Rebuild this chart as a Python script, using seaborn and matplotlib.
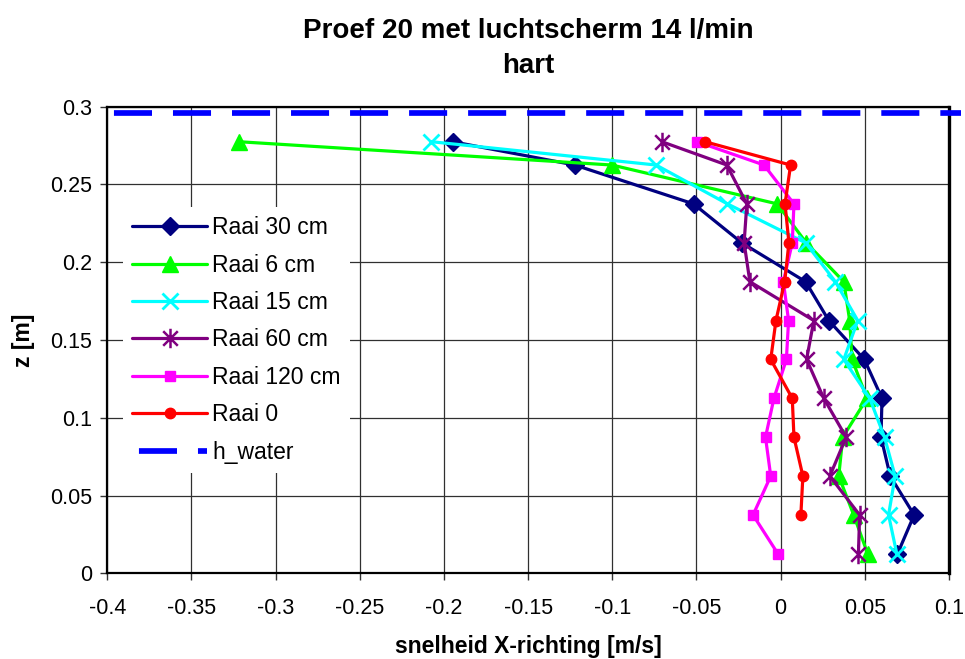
import numpy as np
import pandas as pd
import matplotlib
matplotlib.use("Agg")
import matplotlib.pyplot as plt
from matplotlib.path import Path
import seaborn as sns

# ---------------- data ----------------
z_levels = [0.0125, 0.0375, 0.0625, 0.0875, 0.1125, 0.1375, 0.1625, 0.1875,
            0.2125, 0.2375, 0.2625, 0.2775]
z_raai0 = z_levels[1:]

raai_30 = [0.0694, 0.0793, 0.0651, 0.0596, 0.0602, 0.0497, 0.0286, 0.0148,
           -0.0231, -0.0517, -0.1223, -0.1949]
raai_6 = [0.0517, 0.0434, 0.0345, 0.0369, 0.0513, 0.0424, 0.0410, 0.0375,
          0.0152, -0.0020, -0.1002, -0.3220]
raai_15 = [0.0690, 0.0641, 0.0680, 0.0617, 0.0529, 0.0375, 0.0458, 0.0325,
           0.0148, -0.0316, -0.0740, -0.2075]
raai_60 = [0.0462, 0.0469, 0.0292, 0.0389, 0.0256, 0.0154, 0.0197, -0.0183,
           -0.0217, -0.0201, -0.0320, -0.0706]
raai_120 = [-0.0016, -0.0164, -0.0059, -0.0090, -0.0040, 0.0034, 0.0047, 0.0016,
            0.0069, 0.0079, -0.0099, -0.0497]
raai_0 = [0.0120, 0.0132, 0.0079, 0.0069, -0.0059, -0.0028, 0.0024, 0.0049,
          0.0026, 0.0059, -0.0450]

h_water = 0.296
h_water_x = [-0.4, 0.107]

series_labels = ["Raai 30 cm", "Raai 6 cm", "Raai 15 cm", "Raai 60 cm",
                 "Raai 120 cm", "Raai 0"]
water_label = "h_water"

x_ticks = [-0.4, -0.35, -0.3, -0.25, -0.2, -0.15, -0.1, -0.05, 0, 0.05, 0.1]
x_ticklabels = ["-0.4", "-0.35", "-0.3", "-0.25", "-0.2", "-0.15", "-0.1",
                "-0.05", "0", "0.05", "0.1"]
y_ticks = [0, 0.05, 0.1, 0.15, 0.2, 0.25, 0.3]
y_ticklabels = ["0", "0.05", "0.1", "0.15", "0.2", "0.25", "0.3"]

title_text = "Proef 20 met luchtscherm 14 l/min\nhart"
xlabel_text = "snelheid X-richting [m/s]"
ylabel_text = "z [m]"

# ---------------- style ----------------
sns.set_theme(style="white")
plt.rcParams["font.family"] = ["Liberation Sans", "DejaVu Sans"]
plt.rcParams["axes.unicode_minus"] = False
plt.rcParams["lines.scale_dashes"] = False
for k in ["text.color", "axes.labelcolor", "xtick.color", "ytick.color"]:
    plt.rcParams[k] = "black"

W, H = 965, 659
fig = plt.figure(figsize=(W / 100, H / 100), dpi=100)
L, R, T, B = 107.3, 949.0, 106.7, 573.3
ax = fig.add_axes([L / W, 1 - B / H, (R - L) / W, (B - T) / H])

# Excel-like asterisk marker: vertical line + X
ast = Path([(0, -1), (0, 1), (-0.75, -0.75), (0.75, 0.75), (-0.75, 0.75), (0.75, -0.75)],
           [Path.MOVETO, Path.LINETO, Path.MOVETO, Path.LINETO, Path.MOVETO, Path.LINETO])

specs = [
    (raai_30, z_levels, "#000080", "D", 9, 1.0),
    (raai_6, z_levels, "#00FF00", "^", 11, 1.0),
    (raai_15, z_levels, "#00FFFF", "x", 11, 2.0),
    (raai_60, z_levels, "#800080", ast, 14, 1.8),
    (raai_120, z_levels, "#FF00FF", "s", 7, 1.0),
    (raai_0, z_raai0, "#FF0000", "o", 7.5, 1.0),
]

for (xv, zv, col, mk, ms, mew), lab in zip(specs, series_labels):
    df = pd.DataFrame({"v": xv, "z": zv})
    sns.lineplot(data=df, x="v", y="z", sort=False, estimator=None, ax=ax,
                 color=col, linewidth=2.3, marker=mk, markersize=ms,
                 markeredgecolor=col, markerfacecolor=col, markeredgewidth=mew,
                 label=lab, zorder=3)

wdf = pd.DataFrame({"v": h_water_x, "z": [h_water, h_water]})
sns.lineplot(data=wdf, x="v", y="z", sort=False, estimator=None, ax=ax,
             color="#0000FF", linewidth=4.1,
             linestyle=(37.5, (27.4, 15.1)), label=water_label, zorder=4)
ax.lines[-1].set_clip_on(False)
ax.lines[-1].set_solid_capstyle("butt")
ax.lines[-1].set_dash_capstyle("butt")

# ---------------- axes ----------------
ax.set_xlim(-0.4, 0.1)
ax.set_ylim(0, 0.3)
ax.set_xticks(x_ticks)
ax.set_xticklabels(x_ticklabels)
ax.set_yticks(y_ticks)
ax.set_yticklabels(y_ticklabels)
ax.grid(True, color="#303030", linewidth=0.9)
ax.set_axisbelow(True)
ax.tick_params(axis="both", direction="out", length=5, width=1.0, color="#333333",
               labelsize=15.5, labelcolor="black")
ax.tick_params(axis="x", pad=12.5)
ax.tick_params(axis="y", pad=6)
ax.tick_params(bottom=True, left=True)
for s in ax.spines.values():
    s.set_color("black")
    s.set_linewidth(1.6)
    s.set_visible(True)
ax.spines["right"].set_linewidth(2.4)

ax.set_xlabel(xlabel_text, fontsize=16.5, fontweight="bold", labelpad=12)
ax.set_ylabel(ylabel_text, fontsize=16.5, fontweight="bold", labelpad=11)
fig.text((L + R) / 2 / W, 1 - 18 / H, title_text, ha="center", va="top",
         fontsize=20, fontweight="bold", linespacing=1.45)

leg = ax.legend(loc="upper left", bbox_to_anchor=(0.0187, 0.785), borderaxespad=0,
                frameon=True, fancybox=False, framealpha=1, facecolor="white",
                edgecolor="white", fontsize=16.5, handlelength=3.27,
                handletextpad=0.22, labelspacing=0.63, borderpad=0.4,
                numpoints=1)
leg.set_zorder(5)
leg.get_frame().set_linewidth(0)

fig.savefig("out.png", dpi=100, facecolor="white")
